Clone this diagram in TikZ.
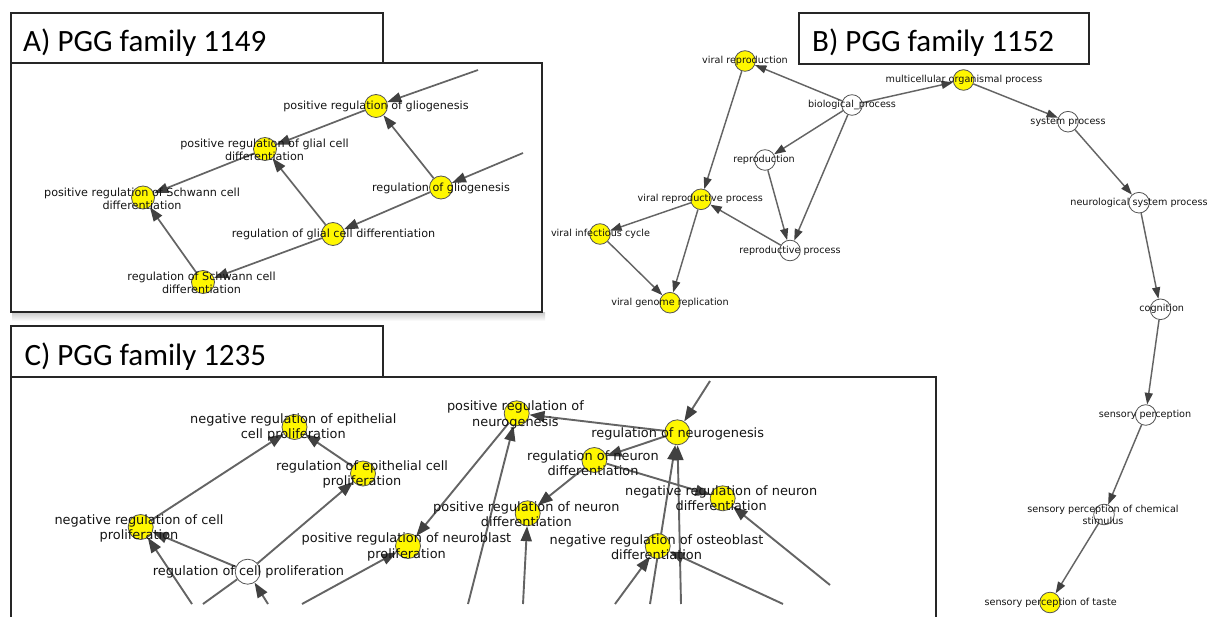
\documentclass[tikz,border=0pt]{standalone}
\usepackage{fontspec}
\setmainfont{DejaVu Sans}
\newfontfamily\titlefont{Carlito}
\usetikzlibrary{arrows.meta}
\definecolor{nodeyellow}{RGB}{255,247,0}
\definecolor{edgegray}{RGB}{100,100,100}
\definecolor{tipgray}{RGB}{65,65,65}
\definecolor{rimgray}{RGB}{85,85,85}
\definecolor{labelcol}{RGB}{20,20,20}
\pgfdeclarelayer{bglayer}
\pgfdeclarelayer{edgelayer}
\pgfsetlayers{bglayer,edgelayer,main}
\begin{document}
\begin{tikzpicture}[x=1pt,y=-1pt,
  goterm/.style={circle,draw=rimgray,line width=0.8pt,inner sep=0pt},
  hit/.style={goterm,fill=nodeyellow},
  nohit/.style={goterm,fill=white},
  sizeA/.style={minimum size=23pt},
  sizeB/.style={minimum size=20.6pt},
  sizeC/.style={minimum size=25pt},
  labA/.style={align=center,inner sep=0pt,text=labelcol,font=\fontsize{11.2}{13.3}\selectfont},
  labB/.style={align=center,inner sep=0pt,text=labelcol,font=\fontsize{9.65}{11.7}\selectfont},
  labC/.style={align=center,inner sep=0pt,text=labelcol,font=\fontsize{12.9}{15.5}\selectfont},
  edgeA/.style={draw=edgegray,line width=1.7pt,-{Triangle[length=14pt,width=10pt,color=tipgray]}},
  edgeB/.style={draw=edgegray,line width=1.45pt,-{Triangle[length=11.5pt,width=8pt,color=tipgray]}},
  edgeC/.style={draw=edgegray,line width=1.9pt,-{Triangle[length=15pt,width=11pt,color=tipgray]}},
  plainC/.style={draw=edgegray,line width=1.9pt},
  boxline/.style={draw=black!85,line width=1.6pt},
  titletext/.style={anchor=base west,inner sep=0pt,font=\titlefont\fontsize{31}{31}\selectfont}
]
\useasboundingbox (0,0) rectangle (1209,617);

% ---------------- frames and titles ----------------
\begin{pgfonlayer}{bglayer}
\fill[white] (0,0) rectangle (1209,617);
\shade[top color=black!20,bottom color=white] (12,312.5) rectangle (545,321);
\draw[boxline] (11,63) rectangle (542,312);
\draw[boxline] (11,13) rectangle (383,63);
\draw[boxline] (799,13) rectangle (1089,64);
\draw[boxline] (11,620) -- (11,377) -- (936,377) -- (936,620);
\draw[boxline] (11,326) rectangle (383,377);
\end{pgfonlayer}
\node[titletext] (titleA) at (23,51.7) {A) PGG family 1149};
\node[titletext] (titleB) at (812,51.7) {B) PGG family 1152};
\node[titletext] (titleC) at (24.3,365) {C) PGG family 1235};

% ---------------- Panel A ----------------
\node[hit,sizeA] (a1) at (376,106) {};
\node[hit,sizeA] (a2) at (265,149) {};
\node[hit,sizeA] (a3) at (143,197.5) {};
\node[hit,sizeA] (a4) at (441,187.5) {};
\node[hit,sizeA] (a5) at (333,234) {};
\node[hit,sizeA] (a6) at (203,282) {};
\coordinate (ca1) at (478,70);
\coordinate (ca2) at (523,153);

\node[labA] (la1) at (376,106.5) {positive regulation of gliogenesis};
\node[labA] (la2) at (264.5,149.5) {positive regulation of glial cell\\differentiation};
\node[labA] (la3) at (142,198.5) {positive regulation of Schwann cell\\differentiation};
\node[labA] (la4) at (441,188) {regulation of gliogenesis};
\node[labA] (la5) at (333.5,234.3) {regulation of glial cell differentiation};
\node[labA] (la6) at (201.5,282.7) {regulation of Schwann cell\\differentiation};

\begin{pgfonlayer}{edgelayer}
\draw[edgeA] (ca1) -- (a1);
\draw[edgeA] (ca2) -- (a4);
\draw[edgeA] (a4) -- (a1);
\draw[edgeA] (a4) -- (a5);
\draw[edgeA] (a1) -- (a2);
\draw[edgeA] (a5) -- (a2);
\draw[edgeA] (a5) -- (a6);
\draw[edgeA] (a2) -- (a3);
\draw[edgeA] (a6) -- (a3);
\end{pgfonlayer}

% ---------------- Panel B ----------------
\node[hit,sizeB] (b1) at (745,61) {};
\node[nohit,sizeB] (b2) at (852,105) {};
\node[hit,sizeB] (b3) at (963.5,80) {};
\node[nohit,sizeB] (b4) at (765,160) {};
\node[hit,sizeB] (b5) at (701,199.3) {};
\node[hit,sizeB] (b6) at (600,234) {};
\node[nohit,sizeB] (b7) at (790,250.5) {};
\node[hit,sizeB] (b8) at (670,302.7) {};
\node[nohit,sizeB] (b9) at (1068,121.7) {};
\node[nohit,sizeB] (b10) at (1139,202.7) {};
\node[nohit,sizeB] (b11) at (1160.5,309.3) {};
\node[nohit,sizeB] (b12) at (1145.7,415) {};
\node[nohit,sizeB] (b13) at (1104,514.5) {};
\node[hit,sizeB] (b14) at (1050,602.5) {};

\node[labB] (lb1) at (745,61) {viral reproduction};
\node[labB] (lb2) at (852,105) {biological\_process};
\node[labB] (lb3) at (964,80) {multicellular organismal process};
\node[labB] (lb4) at (764,160) {reproduction};
\node[labB] (lb5) at (700.3,199.3) {viral reproductive process};
\node[labB] (lb6) at (600.5,234) {viral infectious cycle};
\node[labB] (lb7) at (790,250.7) {reproductive process};
\node[labB] (lb8) at (670,302.7) {viral genome replication};
\node[labB] (lb9) at (1068,121.7) {system process};
\node[labB] (lb10) at (1139,202.7) {neurological system process};
\node[labB] (lb11) at (1161.7,309.3) {cognition};
\node[labB] (lb12) at (1145,415) {sensory perception};
\node[labB] (lb13) at (1103,514.8) {sensory perception of chemical\\stimulus};
\node[labB] (lb14) at (1050.7,602.7) {sensory perception of taste};

\begin{pgfonlayer}{edgelayer}
\draw[edgeB] (b2) -- (b1);
\draw[edgeB] (b2) -- (b3);
\draw[edgeB] (b2) -- (b4);
\draw[edgeB] (b2) -- (b7);
\draw[edgeB] (b4) -- (b7);
\draw[edgeB] (b7) -- (b5);
\draw[edgeB] (b1) -- (b5);
\draw[edgeB] (b5) -- (b6);
\draw[edgeB] (b5) -- (b8);
\draw[edgeB] (b6) -- (b8);
\draw[edgeB] (b3) -- (b9);
\draw[edgeB] (b9) -- (b10);
\draw[edgeB] (b10) -- (b11);
\draw[edgeB] (b11) -- (b12);
\draw[edgeB] (b12) -- (b13);
\draw[edgeB] (b13) -- (b14);
\end{pgfonlayer}

% ---------------- Panel C ----------------
\node[hit,sizeC] (c1) at (294.5,427) {};
\node[hit,sizeC] (c2) at (363,473.5) {};
\node[hit,sizeC] (c3) at (140.7,527) {};
\node[nohit,sizeC] (c4) at (247.7,571.7) {};
\node[hit,sizeC] (c5) at (408,546) {};
\node[hit,sizeC] (c6) at (516.7,413.3) {};
\node[hit,sizeC] (c7) at (677.3,432.3) {};
\node[hit,sizeC] (c8) at (594.3,460) {};
\node[hit,sizeC] (c9) at (527.7,513.3) {};
\node[hit,sizeC] (c10) at (722.7,498.3) {};
\node[hit,sizeC] (c11) at (657.7,546) {};

\node[labC] (lc1) at (293.3,427.5) {negative regulation of epithelial\\cell proliferation};
\node[labC] (lc2) at (362,474.5) {regulation of epithelial cell\\proliferation};
\node[labC] (lc3) at (139,528.3) {negative regulation of cell\\proliferation};
\node[labC] (lc4) at (248.5,571.7) {regulation of cell proliferation};
\node[labC] (lc5) at (406.5,547) {positive regulation of neuroblast\\proliferation};
\node[labC] (lc6) at (515.4,415) {positive regulation of\\neurogenesis};
\node[labC] (lc7) at (677.7,434) {regulation of neurogenesis};
\node[labC] (lc8) at (593,463) {regulation of neuron\\differentiation};
\node[labC] (lc9) at (526.3,514) {positive regulation of neuron\\differentiation};
\node[labC] (lc10) at (721.2,498.3) {negative regulation of neuron\\differentiation};
\node[labC] (lc11) at (656.5,547) {negative regulation of osteoblast\\differentiation};

\coordinate (cc1) at (710,381);
\coordinate (cc2) at (468,604);
\coordinate (cc3) at (523,604);
\coordinate (cc4) at (615,604);
\coordinate (cc5) at (650,604);
\coordinate (cc6) at (681,604);
\coordinate (cc7) at (783,604);
\coordinate (cc8) at (830,585);
\coordinate (cc9) at (192,604);
\coordinate (cc10) at (203,604);
\coordinate (cc11) at (268,604);
\coordinate (cc12) at (302,604);

\begin{pgfonlayer}{edgelayer}
\draw[edgeC] (c7) -- (c6);
\draw[edgeC] (c7) -- (c8);
\draw[edgeC] (c8) -- (c9);
\draw[edgeC] (c8) -- (c10);
\draw[edgeC] (c6) -- (c5);
\draw[edgeC] (c3) -- (c1);
\draw[edgeC] (c2) -- (c1);
\draw[edgeC] (c4) -- (c2);
\draw[edgeC] (c4) -- (c3);
\draw[edgeC] (cc1) -- (c7);
\draw[edgeC] (cc2) -- (c6);
\draw[edgeC] (cc3) -- (c9);
\draw[edgeC] (cc4) -- (c11);
\draw[edgeC] (cc5) -- (c7);
\draw[edgeC] (cc6) -- (c7);
\draw[edgeC] (cc7) -- (c11);
\draw[edgeC] (cc8) -- (c10);
\draw[edgeC] (cc9) -- (c3);
\draw[plainC] (c4) -- (cc10);
\draw[edgeC] (cc11) -- (c4);
\draw[edgeC] (cc12) -- (c5);
\end{pgfonlayer}
\end{tikzpicture}
\end{document}
